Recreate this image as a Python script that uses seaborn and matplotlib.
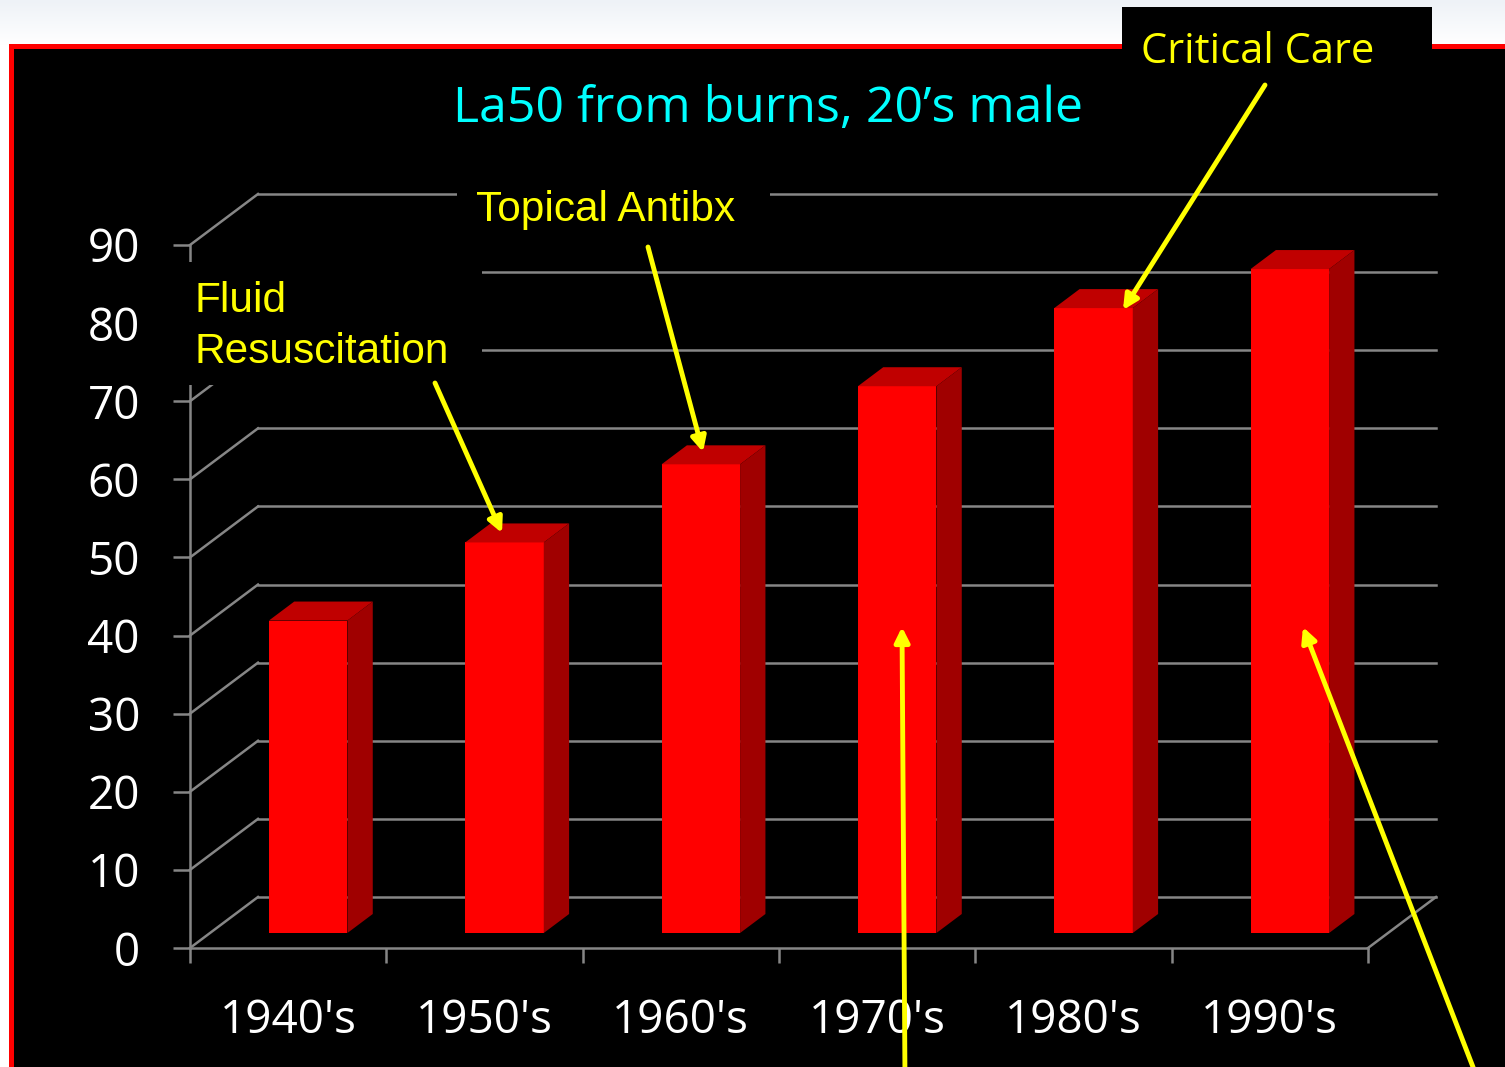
import numpy as np
import pandas as pd
import matplotlib
matplotlib.use("Agg")
import matplotlib.pyplot as plt
from matplotlib.patches import Rectangle, Polygon
from matplotlib.colors import LinearSegmentedColormap
import seaborn as sns

# data
decades = ["1940's", "1950's", "1960's", "1970's", "1980's", "1990's"]
la50 = [40, 50, 60, 70, 80, 85]
y_ticks = [0, 10, 20, 30, 40, 50, 60, 70, 80, 90]
title = "La50 from burns, 20\u2019s male"

W, H = 1505, 1067
# front plane of the plot box, in pixels (top-left origin)
L, R, T, B = 190, 1368, 245, 948
WALL = 51                      # vertical depth of back wall (px)
BAR_FRONT, BAR_BACK = 15, 34   # bar depth range (px)
GRID = '#868686'
GRID_LW = 1.8
YELLOW = '#ffff00'

plt.rcParams['font.family'] = 'Open Sans'
df = pd.DataFrame({"decade": decades, "la50": la50})

fig = plt.figure(figsize=(W / 100, H / 100), dpi=100)
fig.patch.set_facecolor('white')

# slide background: light band on top, red framed black panel
bg = fig.add_axes([0, 0, 1, 1], zorder=0)
band = LinearSegmentedColormap.from_list('band', ['#eef2f7', '#ffffff'])
bg.imshow(np.linspace(0, 1, 50).reshape(-1, 1), extent=(0, W, 45, 0),
          aspect='auto', cmap=band)
bg.add_patch(Rectangle((10.5, 45.5), W, H, fc='black', ec='red', lw=3.6))
bg.add_patch(Rectangle((1122, 7), 310, 42, fc='black', ec='none'))
bg.set_xlim(0, W)
bg.set_ylim(H, 0)
bg.axis('off')

# main chart
ax = fig.add_axes([L / W, 1 - B / H, (R - L) / W, (B - T) / H], zorder=1)
ax.patch.set_alpha(0)
sns.barplot(data=df, x='decade', y='la50', color='#ff0000', saturation=1,
            width=0.4, linewidth=0, ax=ax, zorder=3)
ax.set_xlim(-0.5, 5.5)
ax.set_ylim(0, 90)

ppx = (R - L) / 6
ppy = (B - T) / 90


def depth(d):
    # oblique offset in data units for a depth of d pixels
    return d * 68 / 51 / ppx, d / ppy


fx, fy = depth(BAR_FRONT)
bx, by = depth(BAR_BACK)
dx, dy = bx - fx, by - fy
for bar in list(ax.patches):
    x0 = bar.get_x() + fx
    w = bar.get_width()
    top = fy + bar.get_height()
    bar.set_x(x0)
    bar.set_y(fy)
    bar.set_clip_on(False)
    ax.add_patch(Polygon([(x0, top), (x0 + w, top), (x0 + w + dx, top + dy),
                          (x0 + dx, top + dy)], fc='#c00000', ec='none',
                         zorder=3, clip_on=False))
    ax.add_patch(Polygon([(x0 + w, fy), (x0 + w, top), (x0 + w + dx, top + dy),
                          (x0 + w + dx, fy + dy)], fc='#a00000', ec='none',
                         zorder=3, clip_on=False))

# back wall grid and left wall diagonals
wx, wy = depth(WALL)
for v in y_ticks:
    ax.plot([-0.5 + wx, 5.5 + wx], [v + wy, v + wy], color=GRID, lw=GRID_LW,
            zorder=1, clip_on=False)
    ax.plot([-0.5, -0.5 + wx], [v, v + wy], color=GRID, lw=GRID_LW,
            zorder=1, clip_on=False)
ax.plot([5.5, 5.5 + wx], [0, wy], color=GRID, lw=GRID_LW, zorder=1,
        clip_on=False)

for s in ['top', 'right']:
    ax.spines[s].set_visible(False)
for s in ['left', 'bottom']:
    ax.spines[s].set_color(GRID)
    ax.spines[s].set_linewidth(GRID_LW)

ax.set_yticks(y_ticks)
ax.tick_params(axis='y', length=12, width=GRID_LW, color=GRID,
               labelcolor='white', labelsize=33, pad=24)
ax.set_xticks(np.arange(-0.5, 6, 1), labels=[''] * 7)
ax.set_xticks(range(6), labels=decades, minor=True)
ax.tick_params(axis='x', which='major', length=11, width=GRID_LW, color=GRID)
ax.tick_params(axis='x', which='minor', length=0, labelcolor='white',
               labelsize=33, pad=36)
ax.set_xlabel('')
ax.set_ylabel('')

# overlay for title and annotations (pixel coordinates)
ov = fig.add_axes([0, 0, 1, 1], zorder=2)
ov.set_xlim(0, W)
ov.set_ylim(H, 0)
ov.axis('off')
ov.add_patch(Rectangle((165, 262), 317, 123, fc='black', ec='none'))
ov.add_patch(Rectangle((457, 175), 313, 63, fc='black', ec='none'))

ov.text(768, 122, title, color='#00ffff', fontsize=36, ha='center', va='baseline')
ov.text(1258, 63, "Critical Care", color=YELLOW, fontsize=30, ha='center',
        va='baseline')
ov.text(194, 312, "Fluid", color=YELLOW, fontsize=30.5,
        family='Liberation Sans', va='baseline')
ov.text(194, 363, "Resuscitation", color=YELLOW, fontsize=30.5,
        family='Liberation Sans', va='baseline')
ov.text(476, 221, "Topical Antibx", color=YELLOW, fontsize=30.5,
        family='Liberation Sans', va='baseline')

arrows = [((435, 383), (502, 533)),
          ((648, 247), (703, 452)),
          ((1265, 85), (1123, 310)),
          ((905, 1080), (902, 627)),
          ((1478, 1080), (1303, 627))]
for tail, head in arrows:
    ov.annotate('', xy=head, xytext=tail, annotation_clip=False,
                arrowprops=dict(arrowstyle='-|>', color=YELLOW, lw=3.5,
                                mutation_scale=22, shrinkA=0, shrinkB=0))

fig.savefig('out.png', dpi=100, facecolor=fig.get_facecolor())
